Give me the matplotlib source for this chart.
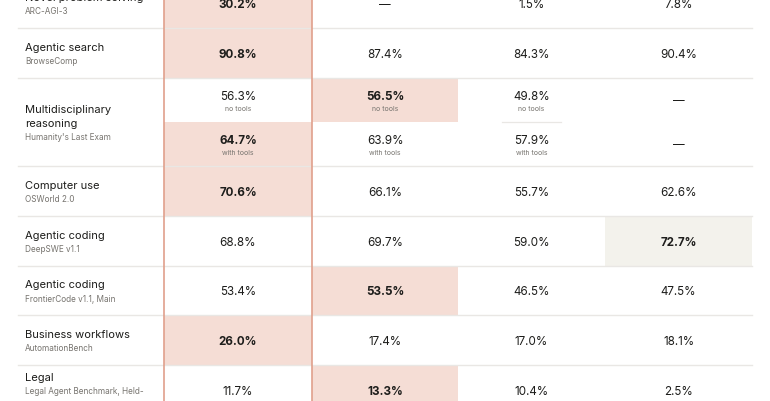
import matplotlib.pyplot as plt
from matplotlib.patches import Rectangle

plt.rcParams['font.family'] = ['Inter', 'DejaVu Sans']

# Benchmark rows (HLE row holds two sub-results, see hle_* below)
categories = ["Novel problem solving", "Agentic search", "Multidisciplinary\nreasoning",
              "Computer use", "Agentic coding", "Agentic coding",
              "Business workflows", "Legal"]
benchmarks = ["ARC-AGI-3", "BrowseComp", "Humanity's Last Exam", "OSWorld 2.0",
              "DeepSWE v1.1", "FrontierCode v1.1, Main", "AutomationBench",
              "Legal Agent Benchmark, Held-\nout"]

# one list per model column; None = not reported ("—")
model_1 = [30.2, 90.8, None, 70.6, 68.8, 53.4, 26.0, 11.7]
model_2 = [None, 87.4, None, 66.1, 69.7, 53.5, 17.4, 13.3]
model_3 = [1.5, 84.3, None, 55.7, 59.0, 46.5, 17.0, 10.4]
model_4 = [7.8, 90.4, None, 62.6, 72.7, 47.5, 18.1, 2.5]

hle_no_tools = [56.3, 56.5, 49.8, None]
hle_with_tools = [64.7, 63.9, 57.9, None]
hle_row = 2

# which column is highlighted in each row
best_col = [0, 0, None, 0, 3, 1, 0, 1]
hle_best_no_tools = 1
hle_best_with_tools = 0

columns = [model_1, model_2, model_3, model_4]

# layout (pixels)
W, H = 770, 402
col_edges = [164, 312, 458, 605, 752]
row_heights = [50, 50, 88, 50, 49.5, 49.5, 50, 50]
top0 = -21
line_x0, line_x1 = 18, 752
step = 14

PINK = '#f5ddd5'
BEIGE = '#f3f2ec'
EDGE = '#e0a08c'
GRID = '#e9e7e4'
TXT = '#1d1d1b'
SUB = '#77746f'
VAL_SIZE = 8.4


def fmt(v):
    return '—' if v is None else f'{v:.1f}%'


def fill_color(c):
    return BEIGE if c == 3 else PINK


fig = plt.figure(figsize=(W / 100, H / 100), dpi=100)
ax = fig.add_axes([0, 0, 1, 1])
ax.set_xlim(0, W)
ax.set_ylim(H, 0)
ax.axis('off')

tops = [top0]
for h in row_heights:
    tops.append(tops[-1] + h)

for i, (cat, bench) in enumerate(zip(categories, benchmarks)):
    y0, y1 = tops[i], tops[i + 1]
    yc = (y0 + y1) / 2

    # label block: category lines then benchmark lines, centred on the row
    lines = [(t, 8.0, TXT) for t in cat.split('\n')] + \
            [(t, 5.9, SUB) for t in bench.split('\n')]
    n = len(lines)
    for k, (t, fs, colr) in enumerate(lines):
        ax.text(25, yc + 1 + (k - (n - 1) / 2) * step, t, fontsize=fs,
                color=colr, va='center', ha='left')

    if i == hle_row:
        ym = yc
        halves = [(y0, ym, hle_no_tools, hle_best_no_tools, 'no tools'),
                  (ym, y1, hle_with_tools, hle_best_with_tools, 'with tools')]
        for a, b, vals, best, note in halves:
            for c, v in enumerate(vals):
                xa, xb = col_edges[c], col_edges[c + 1]
                xc = (xa + xb) / 2
                hl = c == best
                if hl:
                    ax.add_patch(Rectangle((xa, a), xb - xa, b - a,
                                           color=fill_color(c), lw=0, zorder=0))
                sc = (a + b) / 2
                if v is None:
                    ax.text(xc, sc, '—', fontsize=VAL_SIZE, color=TXT,
                            ha='center', va='center')
                else:
                    ax.text(xc, sc - 4, fmt(v), fontsize=VAL_SIZE, color=TXT,
                            ha='center', va='center',
                            fontweight='bold' if hl else 'normal')
                    ax.text(xc, sc + 8, note, fontsize=5.0, color=SUB,
                            ha='center', va='center')
        # short divider inside column 3
        ax.plot([502, 561], [ym, ym], color=GRID, lw=0.9, zorder=1)
    else:
        for c, col in enumerate(columns):
            xa, xb = col_edges[c], col_edges[c + 1]
            hl = best_col[i] == c
            if hl:
                ax.add_patch(Rectangle((xa, y0), xb - xa, y1 - y0,
                                       color=fill_color(c), lw=0, zorder=0))
            ax.text((xa + xb) / 2, yc + 1, fmt(col[i]), fontsize=VAL_SIZE,
                    color=TXT, ha='center', va='center',
                    fontweight='bold' if hl else 'normal')

    ax.plot([line_x0, line_x1], [y1, y1], color=GRID, lw=1.0, zorder=1)

# outline of the first model column
for x in col_edges[:2]:
    ax.plot([x, x], [-5, H + 5], color=EDGE, lw=1.2, zorder=3)

fig.savefig('out.png', dpi=100)
